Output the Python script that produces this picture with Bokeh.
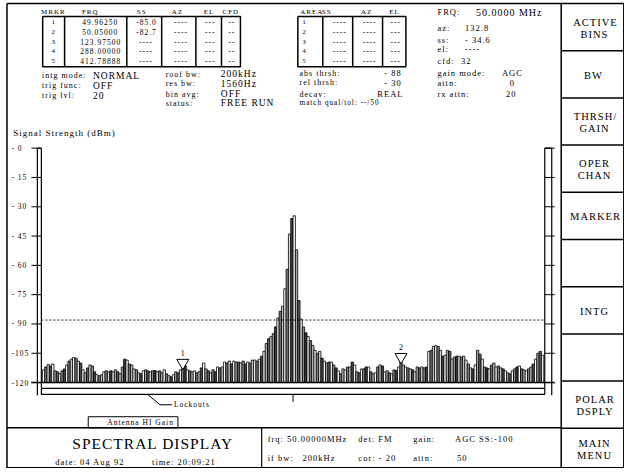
from bokeh.plotting import figure
from bokeh.models import Range1d
from bokeh.core.properties import value
from bokeh.embed import file_html
from bokeh.resources import INLINE

# ---------------- data ----------------
SS_DBM = [
    -113.5, -112, -110.8, -111.5, -110.5, -114, -114.5, -115.5, -114, -113,
    -111, -109, -108, -107.2, -107.5, -109, -110, -113.5, -115, -112.5,
    -111, -111.5, -114.5, -116, -116.5, -116, -114.5, -114, -114.5, -114,
    -114.5, -113.5, -114.5, -115.5, -112, -108, -108.5, -110.5, -111, -113,
    -113.5, -115, -115.5, -114, -113.5, -114, -114.5, -114, -113.8, -114.5,
    -114, -115, -113.5, -115.5, -116.5, -117, -116, -114.5, -115, -113.5,
    -112.5, -111.5, -113.5, -114, -114.5, -114, -115, -114.5, -112.5, -110,
    -113, -114, -115, -113.5, -114.5, -112, -112.5, -112, -109.5, -110,
    -109, -110.5, -109, -109.5, -109.5, -110, -109, -110.5, -109.5, -110,
    -108.5, -108.5, -109, -108, -106.5, -104, -100, -97.5, -96.5, -95,
    -91.5, -87, -83.5, -81, -72, -62, -44, -36, -34.6, -52,
    -78, -87.5, -91.5, -94.5, -96.5, -98.5, -101, -103.5, -105, -104,
    -107.5, -109, -110, -109.5, -109.5, -111, -112.5, -114, -115.5, -113,
    -113.5, -112, -112, -109.5, -111, -114.5, -115, -113, -113, -112,
    -112, -114.5, -115.5, -115, -112, -111, -111.5, -114.5, -114, -115,
    -115.5, -113.5, -113.8, -112, -109.5, -111, -112, -112.5, -113, -113.5,
    -114.5, -112, -112.5, -112, -112.5, -112, -104, -103.5, -101.5, -101,
    -101.5, -103.5, -106.5, -106, -103.5, -104, -108, -107, -106.5, -106.5,
    -107, -106.5, -108.5, -110.5, -112.5, -113, -111, -103.5, -105.5, -108,
    -112, -112.5, -113, -111, -110, -112, -111.5, -112.5, -113, -114,
    -115, -115.5, -114, -113, -112, -111.5, -113, -113.5, -114, -113,
    -112, -110.5, -108, -105, -104, -106,
]
BINS = list(range(len(SS_DBM)))
Y_TICKS = [0, -15, -30, -45, -60, -75, -90, -105, -120]
Y_TICK_LABELS = ["- 0", "- 15", "- 30", "- 45", "- 60", "- 75", "- 90", "-105", "-120"]
ABS_THRSH = -88
MARKER_LABELS = ["1", "2"]
MARKER_BINS = [60, 154]

MRKR_HEAD = ["MRKR", "FRQ", "SS", "AZ", "EL", "CFD"]
MRKR_NUM = ["1", "2", "3", "4", "5"]
MRKR_FRQ = ["49.96250", "50.05000", "123.97500", "288.00000", "412.78888"]
MRKR_SS = ["-85.0", "-82.7", "----", "----", "----"]
MRKR_AZ = ["----"] * 5
MRKR_EL = ["---"] * 5
MRKR_CFD = ["--"] * 5
AREA_HEAD = ["AREA", "SS", "AZ", "EL"]
AREA_SS = ["----"] * 5
AREA_AZ = ["----"] * 5
AREA_EL = ["---"] * 5

MENU = [["ACTIVE", "BINS"], ["BW"], ["THRSH/", "GAIN"], ["OPER", "CHAN"],
        ["MARKER"], [], ["INTG"], [], ["POLAR", "DSPLY"], ["MAIN", "MENU"]]

SHADES = ["#ffffff", "#808080", "#d8d8d8", "#484848", "#ffffff", "#a8a8a8",
          "#5e5e5e", "#ececec", "#909090", "#3c3c3c", "#ffffff", "#767676", "#c4c4c4"]

FONT = "Liberation Serif"

# ---------------- layout (reference pixel space) ----------------
XL, XR = 0.0, 626.0
YT, YB = 0.0, 470.0
BAR_X0, BAR_X1 = 42.0, 545.0
Y_0DB, Y_120 = 148.3, 383.7
FR_L, FR_T, FR_R, FR_B = 6.5, 3.0, 625.3, 469.3
MENU_X = 562.5
BOT_Y = 429.2

N = len(SS_DBM)
pitch = (BAR_X1 - BAR_X0) / N
def px_to_bin(px):
    return (px - BAR_X0) / pitch - 0.5
ppd = (Y_120 - Y_0DB) / 120.0
def py_to_db(py):
    return -(py - Y_0DB) / ppd

p = figure(width=624, height=468, x_range=Range1d(XL, XR), y_range=Range1d(YB, YT),
           output_backend="svg", toolbar_location=None, min_border=0,
           x_axis_type=None, y_axis_type=None)
p.xgrid.visible = False
p.ygrid.visible = False
p.outline_line_color = None
p.background_fill_color = "white"
p.border_fill_color = "white"
p.styles = {"letter-spacing": "1px"}
p.extra_x_ranges = {"bins": Range1d(px_to_bin(XL), px_to_bin(XR))}
p.extra_y_ranges = {"dbm": Range1d(py_to_db(YB), py_to_db(YT))}


def put(xs, ys, texts, size, align="left", **kw):
    p.text(x=xs, y=ys, text=texts, text_font=value(FONT),
           text_font_size=value(f"{size}px"), text_align=align,
           text_baseline="middle", text_color="black", **kw)


def box(x0, y0, x1, y1, w=1.5):
    p.multi_line(xs=[[x0, x1, x1, x0, x0]], ys=[[y0, y0, y1, y1, y0]],
                 line_color="black", line_width=w)


def seg(x0, y0, x1, y1, w=1.0, **kw):
    p.segment(x0=x0, y0=y0, x1=x1, y1=y1, line_color="black", line_width=w, **kw)

# ---------------- frame ----------------
box(FR_L, FR_T, FR_R, FR_B, 1.5)
seg([MENU_X], [FR_T], [MENU_X], [FR_B], 1.5)
seps = [FR_T + 47.4 * k for k in range(1, 10)]
seg([MENU_X] * 9, seps, [FR_R] * 9, seps, 1.5)
seg([FR_L], [BOT_Y], [MENU_X], [BOT_Y], 1.5)
seg([262], [BOT_Y], [262], [FR_B], 1.2)

# menu labels
MENU_CX = (MENU_X + FR_R) / 2.0
for k, lines in enumerate(MENU):
    top = seps[k - 1] if k > 0 else FR_T
    bot = seps[k] if k < len(seps) else FR_B
    cy = (top + bot) / 2.0 + 1
    if len(lines) == 2:
        put([MENU_CX] * 2, [cy - 6, cy + 6], lines, 10.5, "center")
    elif len(lines) == 1:
        put([MENU_CX], [cy], lines, 10.5, "center")

# ---------------- top-left marker table ----------------
ROW_Y = [22, 31.6, 41.2, 50.8, 60.4]
put([40.7, 81.7, 136.7, 171.7, 204, 222.7], [11.7] * 6, MRKR_HEAD, 7)
box(42.3, 16, 240.7, 66.5, 1.5)
cols = [64.3, 126.7, 161.7, 196, 221.7]
seg(cols, [16] * 5, cols, [66.5] * 5, 1.5)
put([53] * 5, ROW_Y, MRKR_NUM, 7, "center")
put([96] * 5, ROW_Y, MRKR_FRQ, 7.5, "center")
put([144] * 5, ROW_Y, MRKR_SS, 7.5, "center")
put([179] * 5, ROW_Y, MRKR_AZ, 7.5, "center")
put([209] * 5, ROW_Y, MRKR_EL, 7.5, "center")
put([231] * 5, ROW_Y, MRKR_CFD, 7.5, "center")

put([41.7] * 3, [75.5, 85.5, 95.5], ["intg mode:", "trig func:", "trig lvl:"], 8)
put([92.7] * 3, [75.5, 85.5, 95.5], ["NORMAL", "OFF", "20"], 9.5)
put([165.7] * 4, [74, 83.5, 94, 103], ["roof bw:", "res bw:", "bin avg:", "status:"], 8)
put([221] * 4, [74, 83.5, 94, 103], ["200kHz", "1560Hz", "OFF", "FREE RUN"], 9.5)

# ---------------- area table ----------------
put([300.7, 322.3, 361.7, 390], [11.7, 11.2, 11.7, 11.7], AREA_HEAD, 7)
box(298.3, 16, 406.7, 66.5, 1.5)
acols = [323.3, 353.3, 383.3]
seg(acols, [16] * 3, acols, [66.5] * 3, 1.5)
put([303] * 5, ROW_Y, MRKR_NUM, 6.5)
put([338.3] * 5, ROW_Y, AREA_SS, 7.5, "center")
put([368.3] * 5, ROW_Y, AREA_AZ, 7.5, "center")
put([395] * 5, ROW_Y, AREA_EL, 7.5, "center")
put([300] * 3, [73, 82.5, 94], ["abs thrsh:", "rel thrsh:", "decav:"], 8)
put([300], [103], ["match qual/tol: --/50"], 7.2)
put([385, 385, 378], [73, 82.5, 94], ["- 88", "- 30", "REAL"], 8.5)

# ---------------- right info ----------------
put([438.3] * 8, [11.7, 28, 39.3, 48.5, 60.5, 73, 82.5, 94],
    ["FRQ:", "az:", "ss:", "el:", "cfd:", "gain mode:", "attn:", "rx attn:"], 8.5)
put([477], [11.7], ["50.0000 MHz"], 10)
put([466, 466, 466, 462, 503, 511, 507],
    [28, 39.3, 48.5, 60.5, 73, 82.5, 94],
    ["132.8", "- 34.6", "----", "32", "AGC", "0", "20"], 8.5)

# ---------------- spectral plot ----------------
put([12.7], [133], ["Signal Strength (dBm)"], 9)
put([11] * len(Y_TICKS), Y_TICKS, Y_TICK_LABELS, 7.5, y_range_name="dbm")
seg(31, Y_TICKS, 41, Y_TICKS, 1.0, y_range_name="dbm")
seg(546, Y_TICKS, 556, Y_TICKS, 1.0, y_range_name="dbm")
# axis double lines
seg([37, 41, 546, 553], [Y_0DB] * 4, [37, 41, 546, 553], [396.5, 389, 389, 396.5], 1.2)
seg([37, 546], [Y_0DB] * 2, [41, 553], [Y_0DB] * 2, 1.2)

colors = [SHADES[i % len(SHADES)] for i in BINS]
p.vbar(x=BINS, top=SS_DBM, bottom=-120, width=1.0, fill_color=colors,
       line_color="black", line_width=0.8, x_range_name="bins", y_range_name="dbm")
seg(31, -120, 556, -120, 1.5, y_range_name="dbm")

# threshold
seg(41, ABS_THRSH, 546, ABS_THRSH, 0.9, y_range_name="dbm", line_dash="2 2")

# markers
mk_y = [SS_DBM[b] + 2.6 for b in MARKER_BINS]
p.scatter(x=MARKER_BINS, y=mk_y, marker="inverted_triangle", size=12,
          fill_color="white", line_color="black", line_width=1,
          x_range_name="bins", y_range_name="dbm")
put(MARKER_BINS, [SS_DBM[b] + 7.8 for b in MARKER_BINS], MARKER_LABELS, 8, "center",
    x_range_name="bins", y_range_name="dbm")

# lockouts bar
box(41, 389.5, 546, 395.5, 1.2)
seg([(N - 1) / 2.0], [395.5], [(N - 1) / 2.0], [403], 1.0, x_range_name="bins")
p.line(x=[148, 160, 172], y=[396, 406, 406], line_color="black", line_width=1)
put([174], [406], ["Lockouts"], 7.5)

# antenna box
box(88, 418, 178, BOT_Y, 1.0)
put([133], [423.8], ["Antenna HI Gain"], 7.5, "center")

# ---------------- bottom panel ----------------
put([145], [445], ["SPECTRAL DISPLAY"], 15.5, "center")
put([55, 152], [463, 463], ["date: 04 Aug 92", "time: 20:09:21"], 8.5)
put([268, 359, 414, 456], [440] * 4, ["frq: 50.00000MHz", "det: FM", "gain:", "AGC SS:-100"], 8.5)
put([268, 303, 359, 414, 458], [459.5] * 5, ["if bw:", "200kHz", "cor: - 20", "attn:", "50"], 8.5)

open("out.html", "w").write(file_html(p, INLINE))
